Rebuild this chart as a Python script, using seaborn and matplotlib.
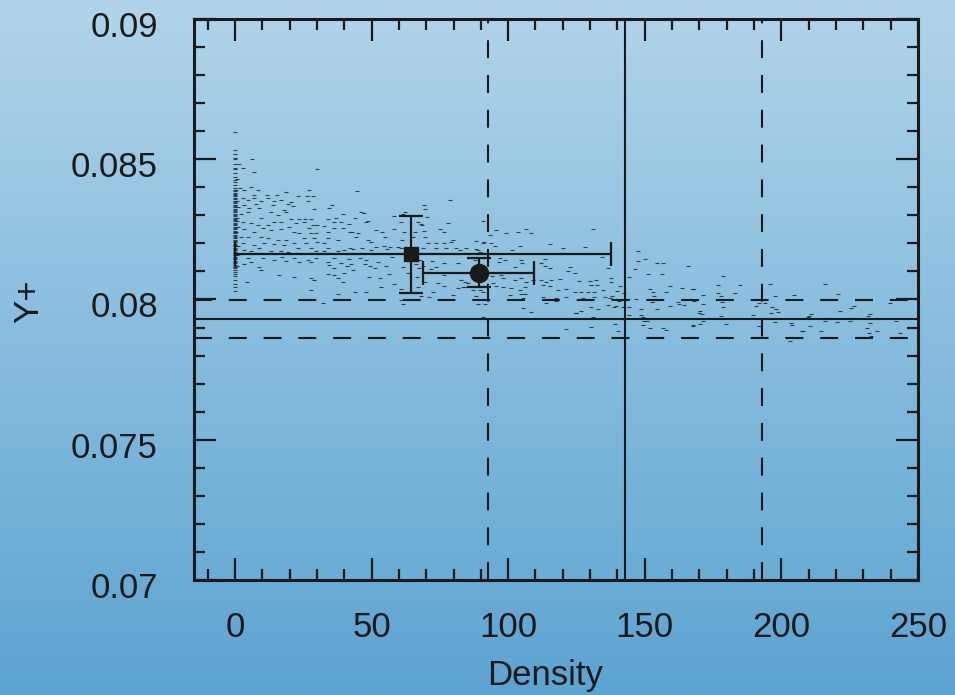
import numpy as np
import pandas as pd
import matplotlib
matplotlib.use("Agg")
import matplotlib.pyplot as plt
import matplotlib.transforms as mtransforms
import seaborn as sns
from matplotlib import font_manager

# ---------------- data (Density, Y+) ----------------
pts_low_density = [
    (6.1, 0.08500), (6.8, 0.08453), (29.9, 0.08464), (5.9, 0.08402), (8.5, 0.08390),
    (1.6, 0.08482), (2.8, 0.08468), (2.0, 0.08396), (3.4, 0.08390), (7.1, 0.08373),
    (11.7, 0.08373), (15.4, 0.08373), (18.7, 0.08384), (23.2, 0.08370), (27.0, 0.08389),
    (26.3, 0.08370), (28.4, 0.08370), (2.8, 0.08361), (4.6, 0.08355), (6.8, 0.08361),
    (9.5, 0.08351), (12.0, 0.08361), (14.4, 0.08351), (16.8, 0.08354), (20.5, 0.08349),
    (26.8, 0.08351), (7.7, 0.08339), (8.9, 0.08327), (3.4, 0.08337), (5.2, 0.08325),
    (13.8, 0.08337), (19.3, 0.08339), (21.1, 0.08334), (18.0, 0.08319), (29.0, 0.08323),
    (34.5, 0.08325), (35.7, 0.08337), (39.4, 0.08304), (2.2, 0.08304), (4.6, 0.08313),
    (9.5, 0.08289), (13.2, 0.08313), (15.6, 0.08301), (18.7, 0.08311), (20.7, 0.08287),
    (23.5, 0.08287), (25.7, 0.08286), (27.8, 0.08287), (33.9, 0.08287), (37.0, 0.08289),
    (2.8, 0.08277), (5.9, 0.08272), (8.3, 0.08266), (12.0, 0.08266), (14.4, 0.08277),
    (16.8, 0.08277), (19.9, 0.08260), (22.3, 0.08272), (25.4, 0.08277), (28.4, 0.08266),
    (30.2, 0.08266), (32.7, 0.08263), (36.3, 0.08275), (38.8, 0.08277), (3.4, 0.08251),
    (7.1, 0.08242), (10.1, 0.08254), (13.2, 0.08247), (16.8, 0.08251), (21.7, 0.08242),
    (23.5, 0.08236), (27.2, 0.08254), (27.8, 0.08236), (29.6, 0.08236), (33.9, 0.08242),
    (36.3, 0.08254), (39.4, 0.08254), (2.2, 0.08224), (4.6, 0.08224), (9.5, 0.08224),
    (12.0, 0.08218), (15.6, 0.08212), (18.7, 0.08212), (25.4, 0.08218), (29.0, 0.08218),
    (33.9, 0.08218), (37.6, 0.08212), (2.8, 0.08200), (7.1, 0.08194), (10.7, 0.08200),
    (14.4, 0.08197), (18.0, 0.08194), (21.7, 0.08200), (26.0, 0.08200), (30.2, 0.08206),
    (32.7, 0.08200), (33.9, 0.08185), (3.4, 0.08177), (5.9, 0.08173), (8.9, 0.08182),
    (13.2, 0.08173), (16.8, 0.08173), (19.3, 0.08171), (22.9, 0.08182), (27.8, 0.08182),
    (29.6, 0.08173), (32.7, 0.08173), (37.6, 0.08173), (39.8, 0.08177), (4.6, 0.08147),
    (10.1, 0.08149), (14.4, 0.08141), (17.4, 0.08153), (21.7, 0.08147), (26.6, 0.08141),
    (29.6, 0.08147), (33.9, 0.08135), (36.3, 0.08147), (38.8, 0.08129), (3.4, 0.08125),
    (5.9, 0.08133), (8.9, 0.08117), (9.5, 0.08105), (16.2, 0.08087), (18.7, 0.08137),
    (23.5, 0.08135), (27.8, 0.08135), (34.5, 0.08123), (36.3, 0.08111), (33.9, 0.08090),
    (36.3, 0.08087), (40.0, 0.08093), (4.4, 0.08064), (21.7, 0.08079), (27.8, 0.08075),
    (28.8, 0.08070), (37.6, 0.08075), (39.4, 0.08061), (28.0, 0.08035), (37.6, 0.08018),
    (32.1, 0.07989),
]

pts_mid_density = [
    (44.8, 0.08387), (78.9, 0.08354), (69.2, 0.08337), (69.7, 0.08321), (46.2, 0.08313),
    (47.2, 0.08309), (62.1, 0.08313), (61.5, 0.08305), (43.8, 0.08289), (48.7, 0.08281),
    (48.1, 0.08277), (58.4, 0.08297), (60.6, 0.08277), (67.0, 0.08277), (68.0, 0.08269),
    (68.4, 0.08265), (70.4, 0.08293), (41.6, 0.08269), (42.0, 0.08242), (42.8, 0.08242),
    (45.0, 0.08236), (51.7, 0.08248), (53.8, 0.08242), (58.2, 0.08253), (61.9, 0.08242),
    (65.8, 0.08242), (69.2, 0.08245), (74.9, 0.08253), (76.7, 0.08242), (78.0, 0.08274),
    (79.8, 0.08212), (44.4, 0.08221), (48.7, 0.08212), (49.7, 0.08206), (54.8, 0.08221),
    (61.1, 0.08212), (65.2, 0.08221), (69.7, 0.08224), (73.7, 0.08200), (76.7, 0.08200),
    (79.2, 0.08206), (42.0, 0.08182), (43.2, 0.08179), (46.5, 0.08182), (49.7, 0.08176),
    (51.7, 0.08186), (54.5, 0.08190), (55.8, 0.08179), (56.6, 0.08186), (59.7, 0.08188),
    (60.6, 0.08182), (68.8, 0.08182), (70.6, 0.08200), (73.7, 0.08182), (77.3, 0.08182),
    (81.0, 0.08182), (82.2, 0.08176), (41.6, 0.08143), (45.6, 0.08147), (48.1, 0.08141),
    (52.3, 0.08135), (57.5, 0.08150), (67.6, 0.08141), (72.1, 0.08138), (41.1, 0.08119),
    (42.6, 0.08126), (47.5, 0.08126), (49.3, 0.08119), (51.1, 0.08111), (55.4, 0.08119),
    (61.5, 0.08117), (66.4, 0.08126), (67.2, 0.08111), (68.9, 0.08119), (73.7, 0.08117),
    (76.7, 0.08129), (81.6, 0.08129), (43.2, 0.08105), (48.9, 0.08081), (53.0, 0.08075),
    (56.3, 0.08090), (63.3, 0.08093), (66.7, 0.08079), (71.9, 0.08107), (74.9, 0.08093),
    (76.7, 0.08087), (43.8, 0.08028), (48.1, 0.08028), (53.6, 0.08046), (58.4, 0.08055),
    (60.9, 0.08036), (67.0, 0.08046), (69.4, 0.08063), (72.5, 0.08028), (74.3, 0.08057),
    (76.7, 0.08048), (79.8, 0.08016), (81.6, 0.08040), (83.4, 0.08046), (68.2, 0.08012),
    (71.2, 0.08010), (60.9, 0.07998), (61.5, 0.07984), (65.2, 0.07998),
]

pts_upper_mid_density = [
    (90.8, 0.08281), (95.4, 0.08248), (93.5, 0.08230), (99.3, 0.08236), (103.6, 0.08242),
    (106.6, 0.08250), (108.5, 0.08238), (88.1, 0.08210), (91.0, 0.08206), (90.8, 0.08200),
    (93.8, 0.08200), (95.1, 0.08191), (104.2, 0.08191), (115.2, 0.08197), (84.7, 0.08183),
    (88.1, 0.08179), (88.9, 0.08177), (89.8, 0.08171), (91.4, 0.08165), (101.5, 0.08177),
    (120.1, 0.08183), (118.8, 0.08165), (124.3, 0.08161), (85.9, 0.08147), (87.7, 0.08141),
    (96.9, 0.08147), (98.7, 0.08141), (104.8, 0.08141), (113.4, 0.08144), (96.6, 0.08135),
    (105.2, 0.08129), (102.4, 0.08117), (112.1, 0.08129), (113.4, 0.08120), (122.5, 0.08117),
    (115.4, 0.08111), (121.9, 0.08100), (124.3, 0.08094), (94.2, 0.08082), (97.5, 0.08088),
    (98.1, 0.08076), (102.4, 0.08070), (104.8, 0.08076), (106.6, 0.08064), (109.1, 0.08068),
    (112.1, 0.08070), (114.0, 0.08064), (115.8, 0.08070), (118.8, 0.08072), (82.9, 0.08070),
    (84.1, 0.08064), (85.3, 0.08058), (94.4, 0.08058), (95.7, 0.08049), (98.1, 0.08046),
    (101.2, 0.08040), (104.2, 0.08034), (106.0, 0.08044), (112.7, 0.08052), (115.2, 0.08049),
    (118.2, 0.08034), (121.3, 0.08037), (124.3, 0.08028), (84.1, 0.08044), (87.1, 0.08032),
    (89.6, 0.08034), (90.8, 0.08028), (88.3, 0.08013), (100.5, 0.08016), (104.8, 0.08020),
    (105.4, 0.08005), (106.0, 0.08020), (112.7, 0.08008), (114.6, 0.08001), (117.6, 0.08005),
    (121.3, 0.08010), (117.6, 0.07993), (114.0, 0.07989), (88.9, 0.07984), (91.4, 0.07984),
    (105.4, 0.07969), (108.5, 0.07957), (124.9, 0.07953), (90.8, 0.07939), (121.3, 0.07894),
]

pts_high_density = [
    (131.0, 0.08253), (128.0, 0.08188), (147.5, 0.08174), (150.2, 0.08146), (147.7, 0.08138),
    (154.5, 0.08131), (156.6, 0.08131), (165.8, 0.08119), (134.3, 0.08152), (136.5, 0.08111),
    (146.3, 0.08108), (151.1, 0.08091), (156.3, 0.08091), (144.1, 0.08081), (126.1, 0.08067),
    (129.8, 0.08067), (132.2, 0.08069), (137.5, 0.08075), (137.5, 0.08063), (130.4, 0.08051),
    (132.6, 0.08051), (141.1, 0.08048), (159.1, 0.08048), (152.1, 0.08039), (163.6, 0.08042),
    (167.6, 0.08037), (126.7, 0.08028), (129.2, 0.08025), (131.6, 0.08028), (134.7, 0.08034),
    (139.9, 0.08031), (142.3, 0.08024), (152.9, 0.08028), (157.8, 0.08028), (153.3, 0.08012),
    (131.6, 0.08010), (135.3, 0.08010), (138.0, 0.08012), (127.3, 0.08004), (137.1, 0.08004),
    (140.4, 0.07994), (143.8, 0.08000), (146.9, 0.08000), (152.6, 0.07992), (162.1, 0.07992),
    (164.3, 0.07980), (130.4, 0.07972), (136.7, 0.07980), (139.5, 0.07977), (142.0, 0.07974),
    (144.4, 0.07972), (148.7, 0.07965), (154.5, 0.07965), (132.8, 0.07965), (138.7, 0.07972),
    (159.1, 0.07977), (162.7, 0.07984), (126.7, 0.07960), (124.9, 0.07953), (144.4, 0.07944),
    (148.7, 0.07944), (149.3, 0.07936), (131.0, 0.07936), (136.5, 0.07929), (149.9, 0.07924),
    (150.9, 0.07924), (139.2, 0.07912), (149.3, 0.07909), (152.1, 0.07897), (156.6, 0.07900),
    (157.8, 0.07891), (130.4, 0.07903), (140.2, 0.07889), (167.6, 0.07909),
]

pts_very_high_density = [
    (178.6, 0.08084), (184.7, 0.08052), (195.9, 0.08054), (176.8, 0.08052), (167.6, 0.08037),
    (171.5, 0.08016), (178.0, 0.08012), (183.2, 0.08022), (176.8, 0.08022), (197.5, 0.08014),
    (204.8, 0.08016), (167.9, 0.07996), (171.3, 0.07984), (178.4, 0.07990), (178.6, 0.07974),
    (191.8, 0.07986), (194.2, 0.07989), (190.8, 0.07977), (196.6, 0.07974), (197.9, 0.07966),
    (198.7, 0.07956), (170.1, 0.07960), (169.8, 0.07951), (171.0, 0.07948), (178.0, 0.07941),
    (189.8, 0.07945), (196.3, 0.07953), (209.7, 0.07939), (171.3, 0.07924), (170.3, 0.07912),
    (179.8, 0.07912), (167.6, 0.07905), (191.8, 0.07905), (197.5, 0.07918), (203.6, 0.07915),
    (204.0, 0.07909), (207.9, 0.07889), (205.4, 0.07864), (203.0, 0.07853),
    (220.7, 0.08019), (226.5, 0.07975), (225.6, 0.07971), (239.6, 0.07986), (211.0, 0.07948),
    (210.1, 0.07941), (221.6, 0.07959), (232.6, 0.07948), (231.7, 0.07941), (217.9, 0.07935),
    (226.2, 0.07935), (215.8, 0.07924), (220.4, 0.07918), (225.0, 0.07924), (232.6, 0.07915),
    (241.8, 0.07924), (210.6, 0.07907), (207.7, 0.07889), (214.6, 0.07889), (231.3, 0.07897),
    (235.0, 0.07888), (232.1, 0.07882), (243.5, 0.07880), (232.7, 0.07870), (219.5, 0.07864),
    (215.9, 0.08055),
]

pts_near_zero = [
    (0.6, 0.0835), (0.8, 0.0829), (0.5, 0.0824), (1.0, 0.0819), (0.7, 0.0828),
    (1.2, 0.0833), (0.9, 0.0816), (0.6, 0.0812), (1.1, 0.0826), (0.4, 0.0839), (0.8, 0.0843),
]

zero_density_yplus = [
    0.08598, 0.08533, 0.08517, 0.08506, 0.08500, 0.08482, 0.08470, 0.08464, 0.08450,
    0.08438, 0.08426, 0.08418, 0.08408, 0.08396,
    0.08390, 0.08386, 0.08381, 0.08377, 0.08372, 0.08368, 0.08363, 0.08357, 0.08352,
    0.08348, 0.08343, 0.08338, 0.08334, 0.08329, 0.08324, 0.08320, 0.08315, 0.08311,
    0.08306, 0.08301, 0.08297, 0.08292, 0.08287, 0.08282, 0.08278, 0.08273, 0.08268,
    0.08264, 0.08259, 0.08255, 0.08250, 0.08245, 0.08241, 0.08236, 0.08231, 0.08227,
    0.08222, 0.08218, 0.08213, 0.08208, 0.08204, 0.08199, 0.08194, 0.08190, 0.08185,
    0.08180, 0.08176, 0.08171, 0.08166, 0.08162, 0.08157, 0.08152, 0.08148, 0.08143,
    0.08138, 0.08134, 0.08129, 0.08124, 0.08120, 0.08115, 0.08111,
    0.08105, 0.08099, 0.08091, 0.08085, 0.08070, 0.08055, 0.08043, 0.08031,
]

# summary points with error bars
square_point = (64.3, 0.08161)
square_xerr = (64.3, 73.2)      # (minus, plus)
square_yerr = 0.00137
circle_point = (89.2, 0.08096)
circle_xerr = 20.2
circle_yerr = 0.00052

# reference bands
yplus_ref, yplus_band = 0.0793, 0.00069
density_ref, density_band = 142.8, 50.0

x_ticks = [0, 50, 100, 150, 200, 250]
x_tick_labels = ["0", "50", "100", "150", "200", "250"]
y_ticks = [0.07, 0.075, 0.08, 0.085, 0.09]
y_tick_labels = ["0.07", "0.075", "0.08", "0.085", "0.09"]

# ---------------- build table ----------------
all_pts = (pts_low_density + pts_mid_density + pts_upper_mid_density
           + pts_high_density + pts_very_high_density + pts_near_zero
           + [(0.0, v) for v in zero_density_yplus])
df = pd.DataFrame(all_pts, columns=["Density", "Y+"])

# ---------------- style ----------------
sns.set_theme(style="ticks")
plt.rcParams["font.family"] = ["Liberation Sans", "DejaVu Sans"]
plt.rcParams["text.color"] = "black"
plt.rcParams["axes.labelcolor"] = "black"
names = {f.name for f in font_manager.fontManager.ttflist}
narrow = "Liberation Sans Narrow" if "Liberation Sans Narrow" in names else "Liberation Sans"
xtick_size = 30 if narrow == "Liberation Sans Narrow" else 25

fig = plt.figure(figsize=(9.55, 6.95), dpi=100)

# gradient background
bg = fig.add_axes([0, 0, 1, 1], zorder=-10)
g = np.linspace(0, 1, 256)[:, None, None]
top = np.array([177, 212, 234]) / 255.0
bot = np.array([92, 164, 209]) / 255.0
img = top[None, None, :] * (1 - g) + bot[None, None, :] * g
bg.imshow(img, aspect="auto", extent=[0, 1, 0, 1], origin="upper")
bg.set_axis_off()

ax = fig.add_axes([0.2031, 0.1655, 0.7581, 0.8072])
ax.set_facecolor("none")

sns.scatterplot(data=df, x="Density", y="Y+", marker="_", s=8, linewidth=0.8,
                color="#1e2a33", alpha=0.85, ax=ax, legend=False, zorder=2)

dash = (0, (8.6, 8.1))
ax.axhline(yplus_ref, color="k", lw=1.5, zorder=3)
ax.axhline(yplus_ref + yplus_band, color="k", lw=1.5, ls=dash, zorder=3)
ax.axhline(yplus_ref - yplus_band, color="k", lw=1.5, ls=dash, zorder=3)
ax.axvline(density_ref, color="k", lw=1.5, zorder=3)
ax.axvline(density_ref - density_band, color="k", lw=1.5, ls=dash, zorder=3)
ax.axvline(density_ref + density_band, color="k", lw=1.5, ls=dash, zorder=3)

ax.errorbar([square_point[0]], [square_point[1]],
            xerr=[[square_xerr[0]], [square_xerr[1]]], yerr=[square_yerr],
            fmt="s", ms=9.5, color="k", elinewidth=1.6, capsize=8.5, capthick=1.6, zorder=5)
ax.errorbar([circle_point[0]], [circle_point[1]],
            xerr=[circle_xerr], yerr=[circle_yerr],
            fmt="o", ms=13, color="k", elinewidth=1.6, capsize=8.5, capthick=1.6, zorder=5)

ax.set_xlim(-15, 250)
ax.set_ylim(0.07, 0.09)
ax.set_xticks(x_ticks)
ax.set_xticklabels(x_tick_labels, fontfamily=narrow, fontsize=xtick_size)
ax.set_xticks(np.arange(-10, 251, 10), minor=True)
ax.set_yticks(y_ticks)
ax.set_yticklabels(y_tick_labels, fontsize=25)
ax.set_yticks(np.arange(0.070, 0.0901, 0.001), minor=True)

ax.tick_params(which="both", direction="in", top=True, right=True,
               width=1.6, color="k", labelcolor="k")
ax.tick_params(which="major", length=16)
ax.tick_params(which="minor", length=8)
ax.tick_params(axis="y", which="major", pad=26)
ax.tick_params(axis="x", which="major", pad=22)
for sp in ax.spines.values():
    sp.set_linewidth(2.2)
    sp.set_color("k")
ax.grid(False)

# y tick labels sit slightly below their ticks in the reference
shift = mtransforms.ScaledTranslation(0, -5 / 100.0, fig.dpi_scale_trans)
for lab in ax.get_yticklabels():
    lab.set_transform(lab.get_transform() + shift)

ax.set_xlabel("Density", fontsize=25, color="k")
ax.xaxis.set_label_coords(0.485, -0.14)
ax.set_ylabel("Y+", fontsize=25, color="k")
ax.yaxis.set_label_coords(-0.205, 0.497)

fig.savefig("out.png", dpi=100)
